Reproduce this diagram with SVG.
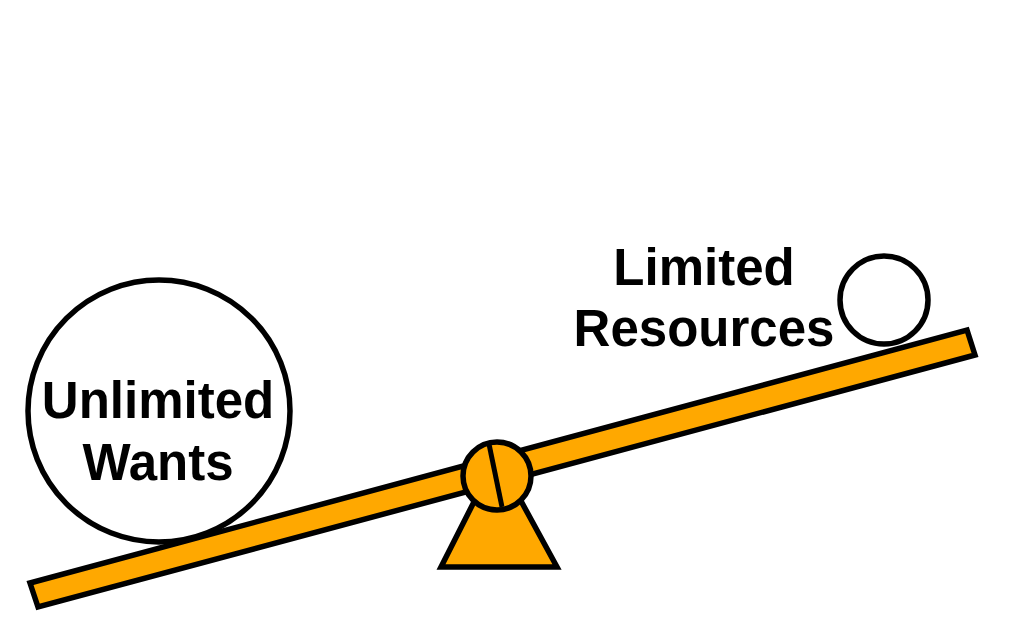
<svg xmlns="http://www.w3.org/2000/svg" width="1024" height="621" viewBox="0 0 1024 621">
<style>
.o{fill:#FFA800;stroke:#000;stroke-width:5.5;stroke-linejoin:miter}
.c{fill:#fff;stroke:#000;stroke-width:5.5}
.t{font-family:"Liberation Sans",Arial,sans-serif;font-weight:bold;font-size:51px;fill:#000;text-anchor:middle}
</style>
<rect width="1024" height="621" fill="#fff"/>
<g id="plank">
<polygon class="o" points="30,583 967,330 975,355 38,607"/>
</g>
<g id="fulcrum">
<polygon class="o" points="480,490 515,490 557,567 441,567"/>
<circle class="o" cx="497" cy="476" r="34"/>
<line x1="489" y1="444" x2="502" y2="507" stroke="#000" stroke-width="5"/>
</g>
<g id="wants">
<circle class="c" cx="159" cy="411" r="131"/>
<text class="t" x="158" y="418">Unlimited</text>
<text class="t" x="158" y="480">Wants</text>
</g>
<g id="resources">
<circle class="c" cx="884" cy="300" r="44"/>
<text class="t" x="704" y="285">Limited</text>
<text class="t" x="704" y="346">Resources</text>
</g>
</svg>
